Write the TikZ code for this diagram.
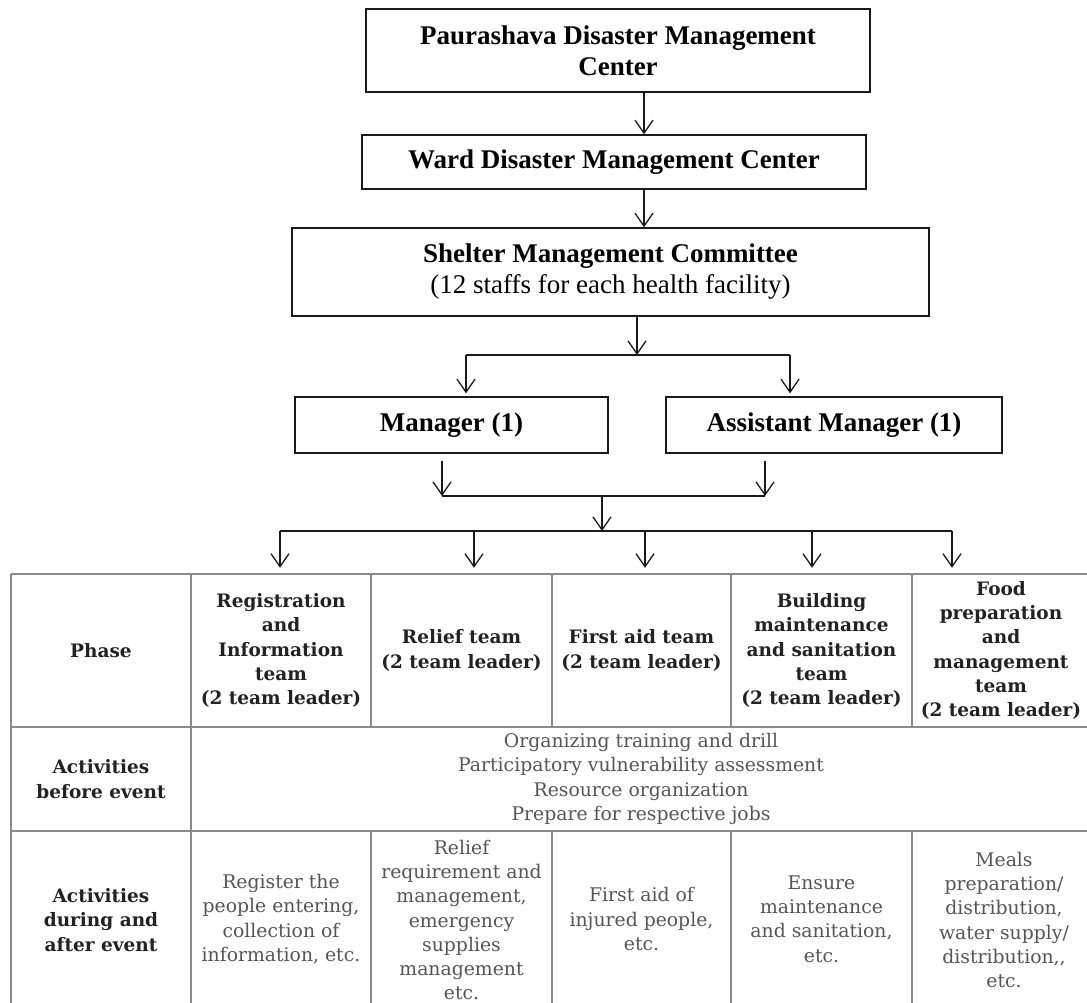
\documentclass[tikz,border=0pt]{standalone}
\usepackage{fontspec}
\usetikzlibrary{arrows.meta,positioning}
\newfontfamily\boxfont{Liberation Serif}
\newfontfamily\tabfont{DejaVu Serif}
\definecolor{frame}{HTML}{1A1A1A}
\definecolor{grid}{HTML}{8A8A8A}
\definecolor{head}{HTML}{222222}
\definecolor{body}{HTML}{555555}

\begin{document}
\begin{tikzpicture}[x=1pt,y=-1pt,
  box/.style={draw=frame,line width=1.4pt,inner sep=0pt,align=center,font=\boxfont\fontsize{27}{31}\selectfont},
  link/.style={draw=frame,line width=1.3pt},
  arrow/.style={link,-{Straight Barb[length=13pt,width=18pt]}},
  tabline/.style={draw=grid,line width=1.2pt},
  headcell/.style={align=center,text=head,font=\tabfont\bfseries\fontsize{18.5}{24.3}\selectfont},
  teamcell/.style={headcell,minimum height=153pt,minimum width=176pt},
  bodycell/.style={align=center,text=body,font=\tabfont\fontsize{18.8}{24.3}\selectfont}]
  \path[use as bounding box,fill=white] (0,0) rectangle (1087,1003);

  % Chain of centres
  \node[box,minimum width=504pt,minimum height=83pt] (pdmc) at (618,50.5) {\textbf{Paurashava Disaster Management}\\\textbf{Center}};
  \node[box,minimum width=504pt,minimum height=54pt] (wdmc) at (614,162) {\textbf{Ward Disaster Management Center}};
  \node[box,minimum width=637pt,minimum height=88pt] (smc) at (610.5,272) {\textbf{Shelter Management Committee}\\(12 staffs for each health facility)};
  \coordinate (spine) at (644,0);
  \draw[arrow] (pdmc.south -| spine) -- (wdmc.north -| spine);
  \draw[arrow] (wdmc.south -| spine) -- (smc.north -| spine);

  % Managers
  \node[box,minimum width=313pt,minimum height=56pt] (mgr) at (451.5,425) {\textbf{Manager (1)}};
  \node[box,minimum width=336pt,minimum height=56pt] (amgr) at (834,425) {\textbf{Assistant Manager (1)}};
  \coordinate (split) at (637,355);
  \coordinate (splitL) at (466,355);
  \coordinate (splitR) at (790,355);
  \draw[arrow] (smc.south -| split) -- (split);
  \draw[link] (splitL) -- (splitR);
  \draw[arrow,shorten >=3pt] (splitL) -- (splitL |- mgr.north);
  \draw[arrow,shorten >=3pt] (splitR) -- (splitR |- amgr.north);

  % Join and fan out to the teams
  \coordinate (joinL) at (442,496);
  \coordinate (joinR) at (765,496);
  \coordinate (join) at (602,496);
  \coordinate (fan) at (602,531);
  \draw[arrow,shorten <=7pt] (mgr.south -| joinL) -- (joinL);
  \draw[arrow,shorten <=7pt] (amgr.south -| joinR) -- (joinR);
  \draw[link] (joinL) -- (joinR);
  \draw[arrow] (join) -- (fan);
  \coordinate (fan1) at (280,531);
  \coordinate (fan2) at (474,531);
  \coordinate (fan3) at (645,531);
  \coordinate (fan4) at (812,531);
  \coordinate (fan5) at (952,531);
  \draw[link] (fan1) -- (fan5);

  % Table grid
  \draw[tabline] (11,574) -- (1087,574);
  \draw[tabline] (11,727) -- (1087,727);
  \draw[tabline] (11,831) -- (1087,831);
  \draw[tabline] (11,574) -- (11,1003);
  \draw[tabline] (191,574) -- (191,1003);
  \draw[tabline] (371,574) -- (371,727);
  \draw[tabline] (552,574) -- (552,727);
  \draw[tabline] (731,574) -- (731,727);
  \draw[tabline] (912,574) -- (912,727);
  \draw[tabline] (371,831) -- (371,1003);
  \draw[tabline] (552,831) -- (552,1003);
  \draw[tabline] (731,831) -- (731,1003);
  \draw[tabline] (912,831) -- (912,1003);

  % Header row
  \node[headcell] (phase) at (101,650.5) {Phase};
  \node[teamcell] (reg) at (281,650.5) {Registration\\and\\Information\\team\\(2 team leader)};
  \node[teamcell] (relief) at (461.5,650.5) {Relief team\\(2 team leader)};
  \node[teamcell] (firstaid) at (641.5,650.5) {First aid team\\(2 team leader)};
  \node[teamcell] (build) at (821.5,650.5) {Building\\maintenance\\and sanitation\\team\\(2 team leader)};
  \node[teamcell] (food) at (1001,650.5) {Food\\preparation\\and\\management\\team\\(2 team leader)};
  \draw[arrow,shorten >=6pt] (fan1) -- (fan1 |- reg.north);
  \draw[arrow,shorten >=6pt] (fan2) -- (fan2 |- relief.north);
  \draw[arrow,shorten >=6pt] (fan3) -- (fan3 |- firstaid.north);
  \draw[arrow,shorten >=6pt] (fan4) -- (fan4 |- build.north);
  \draw[arrow,shorten >=6pt] (fan5) -- (fan5 |- food.north);

  % Before event
  \node[headcell] (before) at (101,779) {Activities\\before event};
  \node[bodycell] (prep) at (641,779) {Organizing training and drill\\Participatory vulnerability assessment\\Resource organization\\Prepare for respective jobs};

  % During and after event
  \node[headcell] (during) at (101,920) {Activities\\during and\\after event};
  \node[bodycell] (regact) at (281,919) {Register the\\people entering,\\collection of\\information, etc.};
  \node[bodycell] (reliefact) at (461.5,920) {Relief\\requirement and\\management,\\emergency\\supplies\\management\\etc.};
  \node[bodycell] (aidact) at (641.5,919) {First aid of\\injured people,\\etc.};
  \node[bodycell] (buildact) at (821.5,919) {Ensure\\maintenance\\and sanitation,\\etc.};
  \node[bodycell] (foodact) at (1004,920) {Meals\\preparation/\\distribution,\\water supply/\\distribution,,\\etc.};
\end{tikzpicture}
\end{document}
